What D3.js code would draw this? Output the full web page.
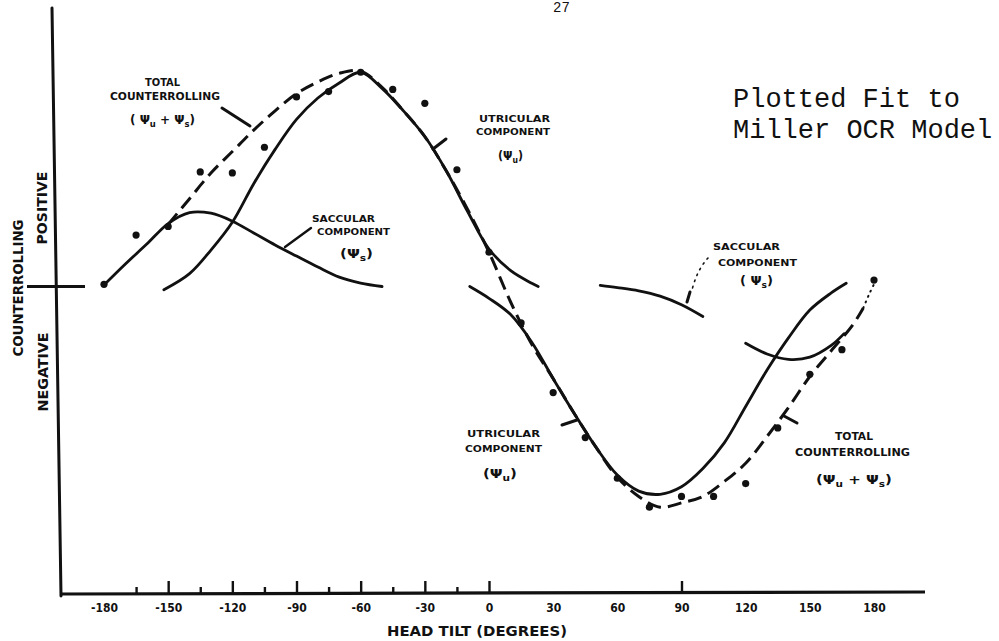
<!DOCTYPE html>
<html>
<head>
<meta charset="utf-8">
<script src="https://cdn.jsdelivr.net/npm/d3@7"></script>
<style>
  html, body { margin: 0; padding: 0; background: #fff; }
  svg { display: block; }
</style>
</head>
<body>
<svg id="chart" width="999" height="641"></svg>
<script>
// ---- measured ocular counterrolling (relative units) vs head tilt (deg)
const measuredTilt = [-180,-165,-150,-135,-120,-105,-90,-75,-60,-45,-30,-15,0,15,30,45,60,75,90,105,120,135,150,165,180];
const measuredRoll = [0.1,2.4,2.8,5.35,5.3,6.5,8.85,9.1,10.0,9.2,8.55,5.45,1.6,-1.7,-4.95,-7.05,-8.95,-10.3,-9.8,-9.8,-9.2,-6.6,-4.1,-2.95,0.3];

// ---- model: total counterrolling (psi_u + psi_s), dashed
const totalTilt = [-150,-140,-130,-120,-110,-100,-90,-80,-70,-60,-50,-40,-30,-20,-10,0,10,20,30,40,50,60,70,80,90,100,110,120,130,140,150,160,170,175];
const totalRoll = [2.9,4.1,5.3,6.3,7.3,8.2,9.0,9.55,9.95,10.05,9.3,8.2,7.0,5.4,3.6,1.6,-0.7,-2.7,-4.3,-5.95,-7.5,-8.9,-9.8,-10.3,-10.1,-9.8,-9.1,-8.25,-7.0,-5.65,-4.2,-3.0,-1.8,-1.0];
// faint dotted run-out of the total curve
const totalTailTilt = [175,178,181];
const totalTailRoll = [-1.0,-0.3,0.3];

// ---- model: utricular component, positive lobe
const utricPosTilt = [-152,-140,-130,-120,-110,-100,-90,-80,-70,-60,-50,-40,-30,-20,-10,0,10,20,23];
const utricPosRoll = [-0.15,0.6,1.7,3.0,4.8,6.4,7.8,8.8,9.5,10.0,9.25,8.2,7.0,5.4,3.5,1.75,0.75,0.15,0.0];

// ---- model: utricular component, negative lobe
const utricNegTilt = [-9,0,10,20,30,40,50,60,70,80,90,100,110,120,130,140,150,160,167];
const utricNegRoll = [0.0,-0.55,-1.3,-2.6,-4.3,-5.95,-7.5,-8.8,-9.55,-9.7,-9.35,-8.5,-7.3,-5.6,-3.9,-2.4,-1.1,-0.3,0.15];

// ---- model: saccular component, positive lobe
const saccPosTilt = [-180,-170,-160,-150,-140,-130,-120,-110,-100,-90,-80,-70,-60,-50];
const saccPosRoll = [0.07,1.05,1.98,2.94,3.45,3.42,3.05,2.5,1.94,1.42,0.91,0.44,0.16,0.0];

// ---- model: saccular component, negative lobe (drawn in two pieces)
const saccNegTiltA = [52,60,70,80,90,100];
const saccNegRollA = [0.05,-0.05,-0.2,-0.45,-0.85,-1.4];
const saccNegTiltB = [120,130,140,150,160,166];
const saccNegRollB = [-2.65,-3.15,-3.4,-3.3,-2.75,-2.2];

// ---- axis
const xTickLabels = [-180,-150,-120,-90,-60,-30,0,30,60,90,120,150,180];
const majorTickMarks = [-150,-120,-90,-60,-30,0,90];
const minorTickMarks = [-165,-135,-105,-75,-45,-15];

const INK = "#111";
const LETTER = "'DejaVu Sans Condensed','DejaVu Sans',sans-serif";
const TYPE = "'Liberation Mono','Courier New',monospace";

const svg = d3.select("#chart");
svg.append("rect").attr("width", 999).attr("height", 641).attr("fill", "#fff");

const x = d3.scaleLinear().domain([-180, 180]).range([104, 874]);
const y = d3.scaleLinear().domain([-14.4, 13.0]).range([595, 8]);

const line = d3.line()
  .x(d => x(d[0]))
  .y(d => y(d[1]))
  .curve(d3.curveCatmullRom.alpha(0.5));

// ---- axes frame
const axisY = 594;
svg.append("line").attr("x1", 52).attr("y1", 8).attr("x2", 61).attr("y2", 596)
  .attr("stroke", INK).attr("stroke-width", 3).attr("stroke-linecap", "round");
svg.append("line").attr("x1", 60).attr("y1", axisY).attr("x2", 925).attr("y2", axisY - 2)
  .attr("stroke", INK).attr("stroke-width", 3.2);
// zero reference mark on the counterrolling axis
svg.append("line").attr("x1", 27).attr("y1", y(0)).attr("x2", 85).attr("y2", y(0))
  .attr("stroke", INK).attr("stroke-width", 3);

const tickStyle = g => {
  g.select(".domain").remove();
  g.selectAll(".tick line").attr("stroke", INK).attr("stroke-width", 2.4);
};
svg.append("g").attr("transform", `translate(0,${axisY})`)
  .call(d3.axisBottom(x).tickValues(majorTickMarks).tickSize(-13).tickFormat(""))
  .call(tickStyle);
svg.append("g").attr("transform", `translate(0,${axisY})`)
  .call(d3.axisBottom(x).tickValues(minorTickMarks).tickSize(-7).tickFormat(""))
  .call(tickStyle);
svg.append("g").attr("transform", `translate(0,${axisY})`)
  .call(d3.axisBottom(x).tickValues(xTickLabels).tickSize(0).tickPadding(9.5)
    .tickFormat(d => d < 0 ? "-" + Math.abs(d) : String(d)))
  .call(g => g.select(".domain").remove())
  .call(g => g.selectAll("text")
    .attr("fill", INK)
    .style("font-family", LETTER)
    .style("font-weight", "bold")
    .style("font-size", "12px"));

svg.append("text").text("HEAD TILT (DEGREES)")
  .attr("x", 387).attr("y", 636)
  .attr("textLength", 180).attr("lengthAdjust", "spacingAndGlyphs")
  .attr("fill", INK).style("font-family", LETTER).style("font-weight", "bold").style("font-size", "14px");

const vLabel = (txt, cx, cy, len) => {
  svg.append("text").text(txt)
    .attr("transform", `translate(${cx},${cy}) rotate(-90)`)
    .attr("text-anchor", "middle").attr("dy", "0.36em")
    .attr("textLength", len).attr("lengthAdjust", "spacingAndGlyphs")
    .attr("fill", INK).style("font-family", LETTER).style("font-weight", "bold").style("font-size", "14px");
};
vLabel("COUNTERROLLING", 18, 288, 137);
vLabel("POSITIVE", 42, 208, 73);
vLabel("NEGATIVE", 43, 372, 79);

// ---- model curves
const plot = svg.append("g").attr("fill", "none").attr("stroke", INK)
  .attr("stroke-linecap", "round").attr("stroke-linejoin", "round");

const solid = (t, r) => plot.append("path").attr("d", line(d3.zip(t, r))).attr("stroke-width", 2.8);
solid(saccPosTilt, saccPosRoll);
solid(utricPosTilt, utricPosRoll);
solid(utricNegTilt, utricNegRoll);
solid(saccNegTiltA, saccNegRollA);
solid(saccNegTiltB, saccNegRollB);

plot.append("path").attr("d", line(d3.zip(totalTilt, totalRoll)))
  .attr("stroke-width", 3).attr("stroke-dasharray", "14,7").attr("stroke-linecap", "butt");
plot.append("path").attr("d", line(d3.zip(totalTailTilt, totalTailRoll)))
  .attr("stroke-width", 2).attr("stroke-dasharray", "1,5");

// ---- measured points
svg.append("g").selectAll("circle")
  .data(d3.zip(measuredTilt, measuredRoll))
  .join("circle")
  .attr("cx", d => x(d[0])).attr("cy", d => y(d[1])).attr("r", 3.6)
  .attr("fill", INK);

// ---- annotation labels
const lab = svg.append("g").attr("fill", INK)
  .style("font-family", LETTER).style("font-weight", "bold");

const plain = (txt, x0, x1, base, size) => {
  lab.append("text").text(txt).attr("x", x0).attr("y", base)
    .attr("textLength", x1 - x0).attr("lengthAdjust", "spacingAndGlyphs")
    .style("font-size", size + "px");
};
// psi expressions with subscripts
const psi = (parts, x0, x1, base, size) => {
  const t = lab.append("text").attr("x", x0).attr("y", base)
    .attr("textLength", x1 - x0).attr("lengthAdjust", "spacingAndGlyphs")
    .style("font-size", size + "px");
  parts.forEach(p => {
    if (p.sub) {
      t.append("tspan").text(p.sub).attr("dy", 3).style("font-size", (size * 0.7) + "px");
    } else {
      t.append("tspan").text(p.txt).attr("dy", p.up ? -3 : 0);
    }
  });
};

// total counterrolling, upper left
plain("TOTAL", 145, 180, 86, 10);
plain("COUNTERROLLING", 110, 220, 100, 10);
psi([{txt:"( Ψ"},{sub:"u"},{txt:" + Ψ", up:true},{sub:"s"},{txt:")", up:true}], 130, 195, 124, 13);

// saccular component, left
plain("SACCULAR", 312, 375, 222, 9);
plain("COMPONENT", 317, 390, 235, 9);
psi([{txt:"(Ψ"},{sub:"s"},{txt:")", up:true}], 340, 373, 258, 13);

// utricular component, upper
plain("UTRICULAR", 479, 550, 122, 9);
plain("COMPONENT", 476, 550, 135, 9);
psi([{txt:"(Ψ"},{sub:"u"},{txt:")", up:true}], 498, 523, 160, 13);

// saccular component, right
plain("SACCULAR", 713, 780, 250, 9);
plain("COMPONENT", 718, 797, 266, 9);
psi([{txt:"( Ψ"},{sub:"s"},{txt:")", up:true}], 740, 773, 285, 12);

// utricular component, lower
plain("UTRICULAR", 467, 540, 437, 9);
plain("COMPONENT", 465, 542, 452, 9);
psi([{txt:"(Ψ"},{sub:"u"},{txt:")", up:true}], 483, 517, 478, 13);

// total counterrolling, lower right
plain("TOTAL", 835, 873, 440, 10);
plain("COUNTERROLLING", 795, 910, 456, 10);
psi([{txt:"(Ψ"},{sub:"u"},{txt:" + Ψ", up:true},{sub:"s"},{txt:")", up:true}], 816, 892, 484, 13);

// ---- leader strokes
const leaders = svg.append("g").attr("stroke", INK).attr("fill", "none")
  .attr("stroke-linecap", "round");
leaders.append("line").attr("x1", 222).attr("y1", 108).attr("x2", 250).attr("y2", 126).attr("stroke-width", 3);
leaders.append("line").attr("x1", 285).attr("y1", 247).attr("x2", 311).attr("y2", 228).attr("stroke-width", 2.4);
leaders.append("line").attr("x1", 433).attr("y1", 149).attr("x2", 446).attr("y2", 139).attr("stroke-width", 3);
leaders.append("path").attr("d", "M708,258 Q697,270 692,290").attr("stroke-width", 1.6).attr("stroke-dasharray", "1.5,5");
leaders.append("line").attr("x1", 690).attr("y1", 292).attr("x2", 687).attr("y2", 302).attr("stroke-width", 3);
leaders.append("line").attr("x1", 562).attr("y1", 425).attr("x2", 577).attr("y2", 420).attr("stroke-width", 3);
leaders.append("polyline").attr("points", "797,423 784,416").attr("stroke-width", 3);

// ---- typed caption and page number
svg.append("text").text("27").attr("x", 553).attr("y", 12)
  .attr("fill", INK).style("font-family", TYPE).style("font-size", "14px");
const cap = svg.append("text").attr("fill", INK).style("font-family", TYPE).style("font-size", "27px");
cap.append("tspan").text("Plotted Fit to").attr("x", 733).attr("y", 107);
cap.append("tspan").text("Miller OCR Model").attr("x", 733).attr("y", 138);
</script>
</body>
</html>
